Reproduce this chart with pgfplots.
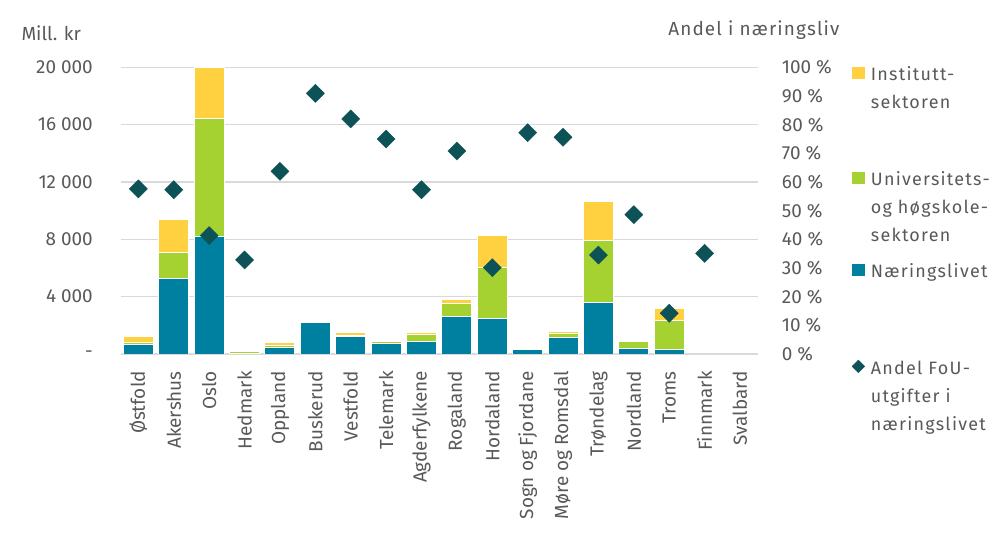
\documentclass[border=0pt]{standalone}
\usepackage{pgfplots}
\pgfplotsset{compat=1.18}
\usepackage{pgfplotstable}
\usepackage{fontspec}
\setmainfont{Fira Sans}

\definecolor{inst}{HTML}{FFD03F}
\definecolor{uni}{HTML}{A6D231}
\definecolor{nar}{HTML}{0080A0}
\definecolor{andel}{HTML}{0D5257}
\definecolor{txt}{HTML}{595959}
\definecolor{grd}{HTML}{D9D9D9}

% FoU-utgifter, mill. kr: Naeringslivet, UoH-sektoren, Instituttsektoren
\pgfplotstableread{
x N U I
0 680 100 420
1 5300 1800 2300
2 8200 8250 3550
3 60 80 40
4 440 180 200
5 2200 0 0
6 1200 100 200
7 700 150 0
8 850 500 150
9 2600 900 300
10 2450 3600 2250
11 280 50 30
12 1150 250 150
13 3600 4300 2770
14 370 470 0
15 300 2040 800
16 0 0 0
17 0 0 0
}\fou

% andel FoU-utgifter i naeringslivet, prosent
\pgfplotstableread{
x A
0 57.6
1 57.3
2 41.3
3 32.8
4 63.7
5 90.9
6 82.0
7 75.0
8 57.3
9 70.8
10 30.1
11 77.2
12 75.6
13 34.5
14 48.6
15 14.2
16 35.1
}\andel

\pgfplotsset{
  base/.style={
    scale only axis, width=637bp, height=286.7bp,
    at={(120.7bp,184bp)}, anchor=south west,
    xmin=-0.5, xmax=17.5,
    major tick length=0pt,
    axis line style={draw=none},
    tick label style={font=\fontsize{19}{22}\selectfont, text=txt},
  }
}

\begin{document}
\begin{tikzpicture}
\path[use as bounding box] (0,0) rectangle (1002bp,538bp);

\begin{axis}[base,
  ybar stacked, bar width=30bp,
  ymin=0, ymax=20000, scaled y ticks=false,
  ytick={0,4000,...,20000},
  yticklabels={-\hspace{8bp}, 4 000, 8 000, 12 000, 16 000, 20 000},
  yticklabel style={anchor=east, inner sep=0pt, xshift=-27.7bp},
  ymajorgrids, grid style={grd, line width=1.2bp},
  xtick=data,
  xticklabels={Østfold, Akershus, Oslo, Hedmark, Oppland, Buskerud, Vestfold, Telemark, Agderfylkene, Rogaland, Hordaland, Sogn og Fjordane, Møre og Romsdal, Trøndelag, Nordland, Troms, Finnmark, Svalbard},
  xticklabel style={rotate=90, anchor=east, inner sep=0pt},
  xticklabel shift=17bp,
  every axis plot/.append style={draw=white, line width=1bp},
]
\addplot[fill=nar] table[x=x, y=N] {\fou};
\addplot[fill=uni] table[x=x, y=U] {\fou};
\addplot[fill=inst] table[x=x, y=I] {\fou};
\end{axis}

\begin{axis}[base,
  ymin=0, ymax=100,
  axis y line*=right, axis x line=none,
  ytick={0,10,...,100},
  yticklabels={0 \%, 10 \%, 20 \%, 30 \%, 40 \%, 50 \%, 60 \%, 70 \%, 80 \%, 90 \%, 100 \%},
  yticklabel style={anchor=west, inner sep=0pt, xshift=24bp},
  legend style={draw=none, fill=none, inner sep=0pt, row sep=0pt, column sep=6bp,
    at={(1.1476,1.0255)}, anchor=north west,
    font=\fontsize{18}{28.4}\selectfont\addfontfeatures{LetterSpace=7}, text=txt,
    nodes={inner sep=0pt}, cells={anchor=base west}},
]
\addlegendimage{legend image code/.code={\fill[inst] (0bp,2bp) rectangle (12bp,13bp);}}
\addlegendentry[text height=20bp, text depth=85bp]{\parbox[t]{140bp}{Institutt-\\sektoren}}
\addlegendimage{legend image code/.code={\fill[uni] (0bp,2bp) rectangle (12bp,13bp);}}
\addlegendentry[text height=20bp, text depth=72bp]{\parbox[t]{140bp}{Universitets-\\og høgskole-\\sektoren}}
\addlegendimage{legend image code/.code={\fill[nar] (0bp,2bp) rectangle (12bp,13bp);}}
\addlegendentry[text height=20bp, text depth=77bp]{\parbox[t]{140bp}{Næringslivet}}
\addlegendimage{legend image code/.code={\fill[andel] (6bp,1.5bp) -- (12.3bp,7.8bp) -- (6bp,14.1bp) -- (-0.3bp,7.8bp) -- cycle;}}
\addlegendentry[text height=20bp, text depth=60bp]{\parbox[t]{140bp}{Andel FoU-\\utgifter i\\næringslivet}}
\addplot[only marks, mark=square*, mark size=6.4bp,
  mark options={rotate=45, fill=andel, draw=andel}] table[x=x, y=A] {\andel};
\end{axis}

\node[anchor=base west, text=txt, font=\fontsize{19}{22}\selectfont] at (18bp,497bp) {Mill. kr};
\node[anchor=base east, text=txt, font=\fontsize{19}{22}\selectfont\addfontfeatures{LetterSpace=6}] at (843bp,502bp) {Andel i næringsliv};
\end{tikzpicture}
\end{document}
